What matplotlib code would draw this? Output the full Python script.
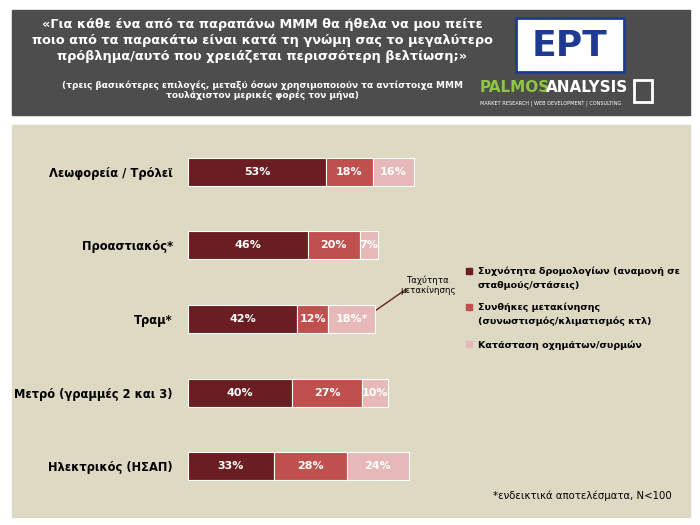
import numpy as np
import matplotlib.pyplot as plt
from matplotlib.patches import Rectangle

categories = ["Λεωφορεία / Τρόλεϊ", "Προαστιακός*", "Τραμ*", "Μετρό (γραμμές 2 και 3)", "Ηλεκτρικός (ΗΣΑΠ)"]
frequency = [53, 46, 42, 40, 33]
conditions = [18, 20, 12, 27, 28]
vehicles = [16, 7, 18, 10, 24]
vehicle_labels = ["16%", "7%", "18%*", "10%", "24%"]
series_names = ["Συχνότητα δρομολογίων (αναμονή σε\nσταθμούς/στάσεις)",
                "Συνθήκες μετακίνησης\n(συνωστισμός/κλιματισμός κτλ)",
                "Κατάσταση οχημάτων/συρμών"]
colors = ["#6B1E22", "#C0504D", "#E6B9B8"]

W, H = 700, 525
fig = plt.figure(figsize=(7, 5.25), dpi=100)
fig.patch.set_facecolor("white")

def px(x, y, w, h):
    return [x / W, 1 - (y + h) / H, w / W, h / H]

# backgrounds
bg = fig.add_axes([0, 0, 1, 1]); bg.set_xlim(0, W); bg.set_ylim(H, 0); bg.axis("off")
bg.add_patch(Rectangle((12, 10), 678, 105, color="#4D4D4D"))
bg.add_patch(Rectangle((12, 125), 678, 392, color="#DDD9C3"))
bg.text(262, 18, "«Για κάθε ένα από τα παραπάνω ΜΜΜ θα ήθελα να μου πείτε\nποιο από τα παρακάτω είναι κατά τη γνώμη σας το μεγαλύτερο\nπρόβλημα/αυτό που χρειάζεται περισσότερη βελτίωση;»",
        color="white", fontsize=9.3, fontweight="bold", ha="center", va="top", linespacing=1.3)
bg.text(262, 80, "(τρεις βασικότερες επιλογές, μεταξύ όσων χρησιμοποιούν τα αντίστοιχα ΜΜΜ\nτουλάχιστον μερικές φορές τον μήνα)",
        color="white", fontsize=6.5, fontweight="bold", ha="center", va="top")
# logos
bg.add_patch(Rectangle((516, 18), 108, 54, facecolor="white", edgecolor="#1F3A93", lw=2))
bg.text(570, 46, "ΕΡΤ", color="#1F3A93", fontsize=26, fontweight="bold", ha="center", va="center")
bg.text(480, 87, "PALMOS", color="#8DC63F", fontsize=11, fontweight="bold", ha="left", va="center")
bg.text(546, 87, "ANALYSIS", color="white", fontsize=11, fontweight="bold", ha="left", va="center")
bg.text(480, 103, "MARKET RESEARCH | WEB DEVELOPMENT | CONSULTING", color="white", fontsize=3.6, ha="left", va="center")
bg.add_patch(Rectangle((634, 80), 18, 22, facecolor="none", edgecolor="white", lw=2))

ax = fig.add_axes(px(188, 135, 260, 368))
ax.set_facecolor("none")
y = np.arange(len(categories))
left = np.zeros(len(categories))
for vals, c, labs in [(frequency, colors[0], [f"{v}%" for v in frequency]),
                      (conditions, colors[1], [f"{v}%" for v in conditions]),
                      (vehicles, colors[2], vehicle_labels)]:
    ax.barh(y, vals, left=left, height=0.38, color=c, edgecolor="white", lw=0.8)
    for yi, l, v, lab in zip(y, left, vals, labs):
        ax.text(l + v / 2, yi, lab, ha="center", va="center", fontsize=8, fontweight="bold",
                color="white")
    left = left + np.array(vals)
ax.set_xlim(0, 100); ax.set_ylim(4.5, -0.5)
ax.set_yticks(y); ax.set_yticklabels(categories, fontsize=8.3, fontweight="bold")
ax.tick_params(length=0, pad=11); ax.set_xticks([])
for s in ax.spines.values(): s.set_visible(False)

# annotation
bg.plot([362, 405], [320, 290], color="#6B1E22", lw=1)
bg.text(428, 285, "Ταχύτητα\nμετακίνησης", fontsize=6.2, ha="center", va="center")

# legend
for i, (name, c) in enumerate(zip(series_names, colors)):
    yy = [271, 307, 344][i]
    bg.add_patch(Rectangle((466, yy - 3), 6, 6, color=c))
    bg.text(478, yy - 4, name, fontsize=6.8, fontweight="bold", ha="left", va="top", linespacing=1.6)

bg.text(672, 496, "*ενδεικτικά αποτελέσματα, Ν<100", fontsize=7.3, ha="right", va="center")

fig.savefig("out.png", dpi=100)
